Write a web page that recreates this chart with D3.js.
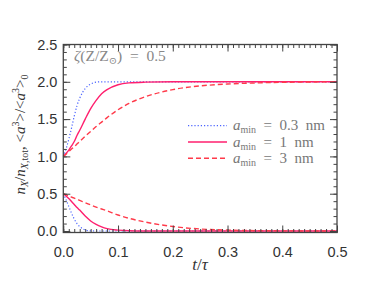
<!DOCTYPE html>
<html>
<head>
<meta charset="utf-8">
<script src="https://cdn.jsdelivr.net/npm/d3@7"></script>
<style>
  body { margin: 0; background: #fff; }
  svg { display: block; }
</style>
</head>
<body>
<script>
let width = 374;
let height = 281;

// data
let tVals   = [0, 0.005, 0.01, 0.015, 0.02, 0.025, 0.03, 0.04, 0.05, 0.06, 0.07, 0.08, 0.1, 0.12, 0.15, 0.2, 0.25, 0.3, 0.35, 0.4, 0.5];

let sizeUp03 = [1.0, 1.10, 1.23, 1.38, 1.54, 1.68, 1.78, 1.91, 1.97, 1.995, 2.0, 2.0, 2.0, 2.0, 2.0, 2.0, 2.0, 2.0, 2.0, 2.0, 2.0];
let sizeUp1  = [1.0, 1.04, 1.085, 1.14, 1.2, 1.28, 1.35, 1.5, 1.64, 1.75, 1.84, 1.895, 1.96, 1.985, 1.995, 2.0, 2.0, 2.0, 2.0, 2.0, 2.0];
let sizeUp3  = [1.0, 1.03, 1.065, 1.1, 1.13, 1.165, 1.2, 1.27, 1.335, 1.4, 1.46, 1.52, 1.625, 1.71, 1.8, 1.895, 1.945, 1.97, 1.985, 1.993, 2.0];

let fracDn03 = [0.5, 0.42, 0.33, 0.24, 0.16, 0.1, 0.06, 0.015, 0.002, 0, 0, 0, 0, 0, 0, 0, 0, 0, 0, 0, 0];
let fracDn1  = [0.5, 0.47, 0.435, 0.395, 0.355, 0.315, 0.28, 0.2, 0.135, 0.088, 0.055, 0.032, 0.012, 0.004, 0.001, 0, 0, 0, 0, 0, 0];
let fracDn3  = [0.5, 0.485, 0.47, 0.455, 0.44, 0.425, 0.41, 0.38, 0.35, 0.32, 0.295, 0.27, 0.215, 0.17, 0.12, 0.06, 0.027, 0.012, 0.005, 0.002, 0];

let legendLabels = ["0.3", "1", "3"];
let xTicks = [0, 0.1, 0.2, 0.3, 0.4, 0.5];
let yTicks = [0, 0.5, 1.0, 1.5, 2.0, 2.5];

let colors = ["#4a63ff", "#ff1f6e", "#ff3a4a"];
let dashes = ["1.2,2", null, "5,3"];
let widths = [1.2, 1.4, 1.4];

let pLeft = 63.3, pRight = 337, pTop = 44.5, pBottom = 232.5;

let xScale = d3.scaleLinear().domain([0, 0.5]).range([pLeft, pRight]);
let yScale = d3.scaleLinear().domain([-0.02, 2.5]).range([pBottom, pTop]);

let svg = d3.select("body")
    .append("svg")
    .attr("width", width)
    .attr("height", height);

//curves

let line = d3.line()
    .x(function(d) { return xScale(d[0]); })
    .y(function(d) { return yScale(d[1]); })
    .curve(d3.curveMonotoneX);

let series = [
    [sizeUp03, 0], [sizeUp1, 1], [sizeUp3, 2],
    [fracDn03, 0], [fracDn1, 1], [fracDn3, 2]
];

series.forEach(function(s) {
    svg.append("path")
        .datum(tVals.map(function(t, i) { return [t, s[0][i]]; }))
        .attr("d", line)
        .attr("fill", "none")
        .attr("stroke", colors[s[1]])
        .attr("stroke-width", widths[s[1]])
        .attr("stroke-dasharray", dashes[s[1]]);
});

//axes

let axisColor = "#444";
let tickFont = "Liberation Sans, Arial, sans-serif";

function styleAxis(g) {
    g.selectAll("line").attr("stroke", axisColor);
    g.select(".domain").remove();
    g.selectAll("text")
        .attr("font-family", tickFont)
        .attr("font-size", "14.5px")
        .attr("fill", "#333");
}

let xMinor = d3.range(0, 0.5001, 0.01);
let yMinor = d3.range(0, 2.5001, 0.1);

svg.append("g").attr("transform", "translate(0," + pBottom + ")")
    .call(d3.axisBottom(xScale).tickValues(xTicks).tickSize(-7).tickPadding(14).tickFormat(d3.format(".1f")))
    .call(styleAxis);
svg.append("g").attr("transform", "translate(0," + pBottom + ")")
    .call(d3.axisBottom(xScale).tickValues(xMinor).tickSize(-3.5).tickFormat(""))
    .call(styleAxis);
svg.append("g").attr("transform", "translate(0," + pTop + ")")
    .call(d3.axisTop(xScale).tickValues(xTicks).tickSize(-7).tickFormat(""))
    .call(styleAxis);
svg.append("g").attr("transform", "translate(0," + pTop + ")")
    .call(d3.axisTop(xScale).tickValues(xMinor).tickSize(-3.5).tickFormat(""))
    .call(styleAxis);

svg.append("g").attr("transform", "translate(" + pLeft + ",0)")
    .call(d3.axisLeft(yScale).tickValues(yTicks).tickSize(-7).tickPadding(6).tickFormat(d3.format(".1f")))
    .call(styleAxis);
svg.append("g").attr("transform", "translate(" + pLeft + ",0)")
    .call(d3.axisLeft(yScale).tickValues(yMinor).tickSize(-3.5).tickFormat(""))
    .call(styleAxis);
svg.append("g").attr("transform", "translate(" + pRight + ",0)")
    .call(d3.axisRight(yScale).tickValues(yTicks).tickSize(-7).tickFormat(""))
    .call(styleAxis);
svg.append("g").attr("transform", "translate(" + pRight + ",0)")
    .call(d3.axisRight(yScale).tickValues(yMinor).tickSize(-3.5).tickFormat(""))
    .call(styleAxis);

//frame

svg.append("rect")
    .attr("x", pLeft)
    .attr("y", pTop)
    .attr("width", pRight - pLeft)
    .attr("height", pBottom - pTop)
    .attr("fill", "none")
    .attr("stroke", axisColor)
    .attr("stroke-width", 1.3);

//labels

let serif = "Liberation Serif, DejaVu Serif, serif";

let xl = svg.append("text")
    .attr("x", (pLeft + pRight) / 2)
    .attr("y", 270)
    .attr("text-anchor", "middle")
    .attr("font-family", serif)
    .attr("font-size", "17px")
    .attr("fill", "#333");
xl.append("tspan").attr("font-style", "italic").text("t");
xl.append("tspan").text("/");
xl.append("tspan").attr("font-style", "italic").text("τ");

let yl = svg.append("text")
    .attr("transform", "translate(25," + ((pTop + pBottom) / 2 - 4) + ") rotate(-90)")
    .attr("text-anchor", "middle")
    .attr("font-family", serif)
    .attr("font-size", "15px")
    .attr("fill", "#333");
yl.append("tspan").attr("font-style", "italic").text("n");
yl.append("tspan").attr("font-style", "italic").attr("font-size", "10px").attr("dy", 3).text("X");
yl.append("tspan").attr("dy", -3).text("/");
yl.append("tspan").attr("font-style", "italic").text("n");
yl.append("tspan").attr("font-size", "10px").attr("dy", 3).html("<tspan font-style='italic'>X</tspan>,tot");
yl.append("tspan").attr("dy", -3).text(", <");
yl.append("tspan").attr("font-style", "italic").text("a");
yl.append("tspan").attr("font-size", "10px").attr("dy", -6).text("3");
yl.append("tspan").attr("dy", 6).text(">/<");
yl.append("tspan").attr("font-style", "italic").text("a");
yl.append("tspan").attr("font-size", "10px").attr("dy", -6).text("3");
yl.append("tspan").attr("dy", 6).text(">");
yl.append("tspan").attr("font-size", "10px").attr("dy", 3).text("0");

let zt = svg.append("text")
    .attr("x", 74)
    .attr("y", 61)
    .attr("font-family", serif)
    .attr("font-size", "15.5px")
    .attr("fill", "#888");
zt.append("tspan").attr("font-style", "italic").text("ζ");
zt.append("tspan").text("(Z/Z");
zt.append("tspan").attr("font-size", "10px").attr("dy", 3).text("⊙");
zt.append("tspan").attr("dy", -3).attr("xml:space", "preserve").text(")  =  0.5");

//legend

let legendY = [125.7, 142, 158.3];
legendLabels.forEach(function(lab, i) {
    svg.append("line")
        .attr("x1", 188).attr("x2", 227)
        .attr("y1", legendY[i]).attr("y2", legendY[i])
        .attr("stroke", colors[i])
        .attr("stroke-width", widths[i])
        .attr("stroke-dasharray", dashes[i]);
    let t = svg.append("text")
        .attr("x", 233)
        .attr("y", legendY[i] + 4.5)
        .attr("font-family", serif)
        .attr("font-size", "15px")
        .attr("fill", "#777")
        .attr("xml:space", "preserve");
    t.append("tspan").attr("font-style", "italic").text("a");
    t.append("tspan").attr("font-size", "10px").attr("dy", 3).text("min");
    t.append("tspan").attr("dy", -3).text("  =  " + lab + "  nm");
});
</script>
</body>
</html>
